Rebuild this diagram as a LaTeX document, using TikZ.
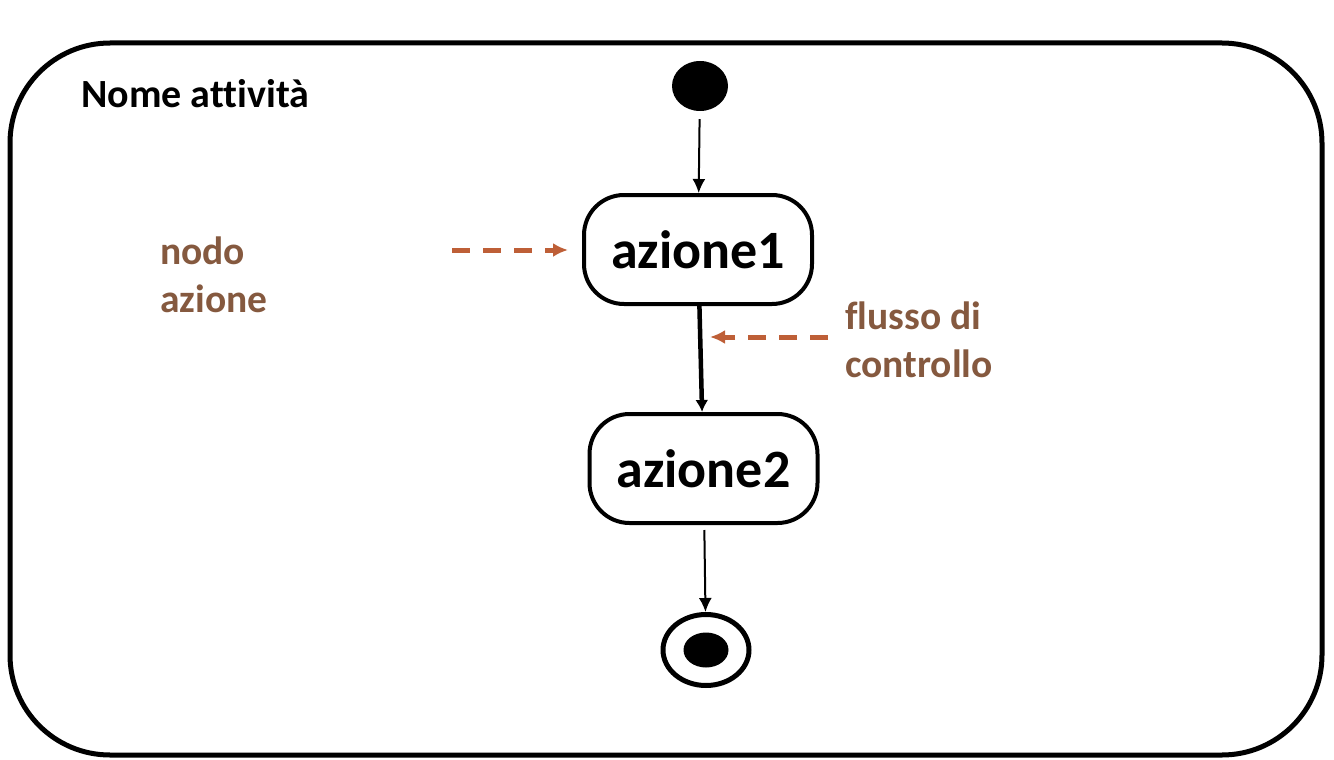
\documentclass[tikz,border=0pt]{standalone}
\usepackage{fontspec}
\setmainfont{Carlito}[Ligatures=NoCommon]
\usetikzlibrary{shapes.geometric,arrows.meta,positioning}

\definecolor{notebrown}{RGB}{133,89,63}
\definecolor{dashorange}{RGB}{190,95,55}

\begin{document}
\begin{tikzpicture}[x=1pt,y=-1pt,>={Latex[length=14pt,width=13pt]},
      action node/.style={draw,line width=4pt,rounded corners=40pt,
        minimum width=228pt,minimum height=109pt,
        font=\fontsize{54}{60}\selectfont\bfseries},
      note/.style={text=notebrown,align=left,inner sep=0pt,anchor=base west,
        font=\fontsize{39.5}{48}\selectfont\bfseries},
      hint/.style={->,dashorange,line width=5pt,dash pattern=on 18pt off 13pt,
        >={Latex[length=15pt,width=14pt]}},
      flow/.style={->,line width=2pt}]
    \useasboundingbox (0,0) rectangle (1334,760);
    % frame of the activity
    \draw[line width=5pt,rounded corners=100pt] (10,43) rectangle (1322,755);
    \node[inner sep=0pt,anchor=base west,font=\fontsize{40}{42}\selectfont\bfseries]
      (title) at (81,107) {Nome attività};

    \node[ellipse,fill,minimum width=56pt,minimum height=50pt,inner sep=0pt] (start) at (700,86) {};
    \node[action node] (a1) at (698,249.5) {azione1};
    \node[action node] (a2) at (703.5,468.5) {azione2};
    \node[ellipse,draw,line width=5pt,minimum width=86pt,minimum height=71pt,inner sep=0pt]
      (stop) at (706,650) {};
    \node[ellipse,fill,minimum width=45pt,minimum height=35pt,inner sep=0pt] at (stop) {};

    \draw[flow,shorten <=8pt] (start) -- (a1);
    \draw[->,line width=4.5pt,>={Latex[length=12pt,width=13pt]}] (a1) -- (a2);
    \draw[flow,shorten <=5pt] (a2) -- (stop);

    % notes (anchor is the baseline of the last line)
    \node[note] (nodenote) at (160,312) {nodo\\azione};
    \node[note] (flownote) at (845,377) {flusso di\\controllo};
    \coordinate (nodetail) at (452,250);
    \coordinate (flowtail) at (828,337);
    \coordinate (flowtip) at (710,337);
    \draw[hint,shorten >=14pt] (nodetail) -- (a1.west |- nodetail);
    \draw[hint] (flowtail) -- (flowtip);
  \end{tikzpicture}
\end{document}
